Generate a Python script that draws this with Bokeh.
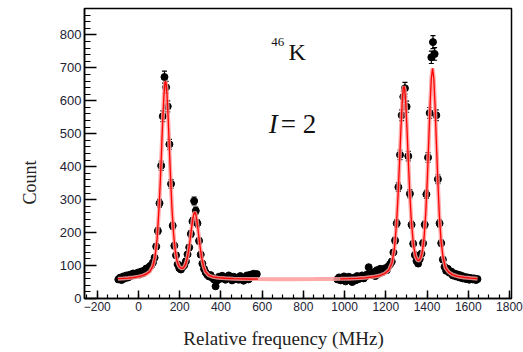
import numpy as np
from bokeh.plotting import figure
from bokeh.models import (ColumnDataSource, Whisker, TeeHead, Label, Title,
                          SingleIntervalTicker, FixedTicker, LinearAxis, Range1d)
from bokeh.embed import file_html
from bokeh.resources import INLINE

# Hyperfine scan of 46K: two scan windows, uniform 8 MHz frequency steps
scan_step = 8
scan1_start = -98
scan1_counts = [58, 63, 56, 67, 61, 70, 64, 72, 69, 76,
                71, 74, 79, 73, 82, 77, 86, 91, 88, 97,
                101, 109, 124, 158, 205, 289, 403, 553, 672, 641,
                583, 468, 348, 221, 160, 131, 104, 92, 88, 96,
                101, 113, 134, 155, 196, 234, 296, 266, 228, 175,
                133, 106, 90, 79, 72, 67, 71, 63, 58, 37,
                55, 66, 60, 69, 62, 57, 64, 70, 61, 55,
                66, 59, 63, 57, 68, 61, 54, 64, 70, 58,
                72, 66, 75, 70, 74]
scan2_start = 965
scan2_counts = [58, 64, 55, 61, 67, 52, 60, 66, 57, 50,
                63, 55, 68, 59, 64, 70, 61, 66, 73, 95,
                78, 71, 80, 68, 86, 75, 90, 79, 84, 92,
                86, 98, 104, 112, 140, 176, 228, 338, 436, 556,
                612, 638, 582, 432, 318, 224, 166, 132, 114, 106,
                120, 136, 168, 224, 316, 428, 563, 732, 778, 742,
                556, 362, 228, 168, 118, 96, 84, 90, 78, 82,
                70, 76, 67, 73, 64, 70, 61, 66, 59, 64,
                57, 62, 58, 61, 56, 59]

# Fitted line shape (four hyperfine components on a flat background)
fit_freq = [-100, -75, -50, -25, 0, 20, 40, 55, 70, 80,
            90, 100, 106, 112, 118, 124, 128, 131, 134, 138,
            144, 150, 156, 162, 170, 178, 186, 194, 202, 210,
            218, 226, 234, 242, 250, 256, 262, 268, 273, 278,
            284, 290, 298, 306, 315, 325, 340, 360, 385, 420,
            460, 500, 540, 580, 650, 750, 850, 950, 980, 1020,
            1060, 1100, 1140, 1170, 1195, 1215, 1230, 1242, 1252, 1260,
            1267, 1274, 1280, 1284, 1288, 1292, 1296, 1302, 1309, 1316,
            1324, 1334, 1344, 1354, 1362, 1370, 1378, 1386, 1394, 1402,
            1409, 1415, 1421, 1427, 1433, 1439, 1445, 1452, 1460, 1468,
            1478, 1490, 1505, 1525, 1550, 1580, 1610, 1645]
fit_count = [60.2, 60.9, 62.0, 63.6, 66.1, 69.4, 74.7, 82.0, 98.6, 124.9,
             179.3, 277.2, 358.7, 452.2, 546.5, 622.7, 652.2, 659.4, 652.4, 623.1,
             547.4, 453.4, 360.5, 279.4, 197.9, 146.1, 116.8, 101.4, 94.0, 91.4,
             93.1, 100.2, 115.4, 140.7, 176.1, 206.6, 235.6, 256.4, 262.2, 255.4,
             233.4, 203.2, 161.3, 126.2, 98.9, 81.7, 70.9, 65.9, 63.1, 61.5,
             60.2, 59.5, 59.1, 58.8, 58.6, 58.6, 58.8, 59.5, 59.6, 60.3,
             61.2, 62.8, 65.7, 69.6, 75.9, 86.6, 107.9, 152.2, 226.7, 318.1,
             418.4, 523.8, 599.9, 632.6, 644.3, 633.4, 601.5, 526.7, 422.9, 324.3,
             235.1, 163.8, 128.8, 115.9, 115.5, 123.6, 144.4, 186.8, 260.0, 369.1,
             486.8, 588.7, 668.2, 698.6, 667.0, 586.2, 482.9, 363.5, 252.3, 176.7,
             123.7, 93.0, 80.0, 72.0, 67.0, 64.0, 62.0, 60.0]

x_major = 200
y_major = 100
x_title = "Relative frequency (MHz)"
x_title_at = 704          # frequency under which the x title is centred

# ---- assemble data -------------------------------------------------------
c1 = np.array(scan1_counts, dtype=float)
c2 = np.array(scan2_counts, dtype=float)
f1 = scan1_start + scan_step * np.arange(len(c1))
f2 = scan2_start + scan_step * np.arange(len(c2))
freq = np.concatenate([f1, f2])
counts = np.concatenate([c1, c2])
err = 0.7 * np.sqrt(counts)

data = ColumnDataSource(dict(x=freq, y=counts, lo=counts - err, hi=counts + err))

fx = np.array(fit_freq, dtype=float)
fy = np.array(fit_count, dtype=float)

p = figure(width=523, height=352, output_backend="svg", toolbar_location=None,
           x_range=Range1d(-262, 1810), y_range=Range1d(0, 880),
           min_border_left=83, min_border_right=12, min_border_top=8,
           min_border_bottom=54, background_fill_color="white",
           border_fill_color="white")
p.xgrid.visible = False
p.ygrid.visible = False
p.outline_line_color = "black"
p.outline_line_width = 1.5

# error bars and points
wh = Whisker(source=data, base="x", upper="hi", lower="lo",
             line_color="black", line_width=1.2,
             upper_head=TeeHead(size=5, line_color="black", line_width=1.2),
             lower_head=TeeHead(size=5, line_color="black", line_width=1.2))
p.add_layout(wh)
p.scatter("x", "y", source=data, size=7, color="black")

# fit curve: light halo everywhere, solid red over the scanned windows
p.line(fx, fy, line_color="#ff9a9a", line_width=4, line_alpha=0.85)
for lo, hi in ((f1.min(), f1.max()), (f2.min(), f2.max())):
    m = (fx >= lo - 10) & (fx <= hi + 10)
    p.line(fx[m], fy[m], line_color="#ff0000", line_width=1.3)

# axes
for ax, step, nminor in ((p.xaxis[0], x_major, 4), (p.yaxis[0], y_major, 5)):
    ax.ticker = SingleIntervalTicker(interval=step, num_minor_ticks=nminor)
    ax.axis_line_width = 1.5
    ax.major_tick_out = 0
    ax.minor_tick_out = 0
    ax.major_tick_line_width = 1.5
    ax.minor_tick_line_width = 1.2
    ax.major_label_text_font = "Liberation Sans"
    ax.major_label_text_color = "#222233"
p.yaxis.major_tick_in = 12
p.yaxis.minor_tick_in = 6
p.xaxis.major_tick_in = 8
p.xaxis.minor_tick_in = 4
p.yaxis.major_label_standoff = 3
p.xaxis.major_label_standoff = 3
p.yaxis.major_label_text_font_size = "13px"
p.xaxis.major_label_text_font_size = "12px"

# x title: a bare second axis whose single label is the title text
serif = "Liberation Serif"
title_axis = LinearAxis(ticker=FixedTicker(ticks=[x_title_at], minor_ticks=[]),
                        major_label_overrides={x_title_at: x_title},
                        major_label_text_font=serif,
                        major_label_text_font_size="19px",
                        major_label_text_color="#222222",
                        major_label_standoff=8,
                        axis_line_color=None, major_tick_line_color=None,
                        minor_tick_line_color=None)
p.add_layout(title_axis, "below")

yt = Title(text="Count", align="left", offset=94,
           text_font=serif, text_font_size="18px", text_font_style="normal",
           text_color="#222222", standoff=34)
p.add_layout(yt, "left")

# annotations
p.add_layout(Label(x=644, y=779, text="46", text_font=serif, text_font_size="13px",
                   text_baseline="alphabetic", text_color="#111111"))
p.add_layout(Label(x=728, y=749, text="K", text_font=serif, text_font_size="24px",
                   text_baseline="alphabetic", text_color="#111111"))
p.add_layout(Label(x=632, y=530, text="I", text_font=serif, text_font_size="27px",
                   text_font_style="italic", text_baseline="alphabetic",
                   text_color="#111111"))
p.add_layout(Label(x=690, y=530, text="= 2", text_font=serif, text_font_size="27px",
                   text_baseline="alphabetic", text_color="#111111"))

open("out.html", "w").write(file_html(p, INLINE))
